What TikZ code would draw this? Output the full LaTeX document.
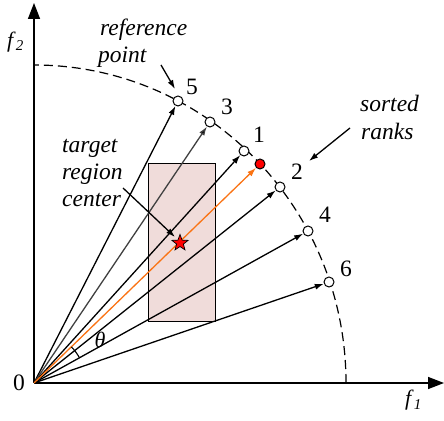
\documentclass[tikz,border=0pt]{standalone}
\usepackage{fontspec}
\setmainfont{Liberation Serif}
\usetikzlibrary{arrows.meta,shapes.geometric}
\definecolor{rectfill}{RGB}{240,220,218}
\definecolor{rayorange}{RGB}{250,115,20}
\begin{document}
\begin{tikzpicture}[x=1pt,y=1pt,
  txt/.style={inner sep=0pt, font=\fontsize{23.5}{27.5}\selectfont},
  itxt/.style={txt, font=\fontsize{23.5}{27.5}\selectfont\itshape, anchor=base west},
  num/.style={txt, anchor=base},
  refpt/.style={circle, draw=black, line width=1pt, fill=white, minimum size=10pt, inner sep=0pt},
  ray/.style={line width=1.3pt, -{Latex[length=9pt,width=6pt]}},
  callout/.style={line width=1.3pt, -{Latex[length=9pt,width=6pt]}},
  axis/.style={line width=1.5pt, -{Triangle[length=16pt,width=12pt]}}]
\useasboundingbox (0,0) rectangle (444,420);
% target region
\node[draw=black, line width=1.1pt, fill=rectfill, minimum width=67pt, minimum height=158pt, inner sep=0pt, anchor=south west] (rect) at (148,98) {};
% origin and axes
\coordinate (O) at (34,37);
\coordinate (xend) at (444,37);
\coordinate (yend) at (34,417);
\draw[axis] (O) -- (xend);
\draw[axis] (O) -- (yend);
% dashed front
\draw[dashed, dash pattern=on 9pt off 5pt, line width=1.2pt] (346,37) arc[start angle=0, end angle=90, x radius=312, y radius=318];
% reference points
\node[refpt] (p5) at (178,319) {};
\node[refpt] (p3) at (210,298) {};
\node[refpt] (p1) at (244,269) {};
\node[refpt, fill=red] (pr) at (260,256) {};
\node[refpt] (p2) at (280,233) {};
\node[refpt] (p4) at (308,189) {};
\node[refpt] (p6) at (329,138) {};
% rays
\draw[ray] (O) -- (p5);
\draw[ray, draw=black!75, -{Latex[length=9pt,width=6pt,fill=black]}] (O) -- (p3);
\draw[ray] (O) -- (p1);
\draw[ray] (O) -- (p2);
\draw[ray] (O) -- (p4);
\draw[ray] (O) -- (p6);
\draw[ray, draw=rayorange, -{Latex[length=9pt,width=6pt,fill=rayorange]}] (O) -- (pr);
% angle
\draw[line width=1.1pt] (O) ++(29:52) arc[start angle=29, end angle=44, radius=52];
\node[txt, font=\fontsize{22}{26}\selectfont\itshape] (theta) at (100,80) {θ};
% star
\node[star, star points=5, star point ratio=2.4, draw=black, line width=0.7pt, fill=red, minimum size=17pt, inner sep=0pt] (star) at (180,177) {};
% rank labels
\node[num] (n5) at (192,325) {5};
\node[num] (n3) at (227,305) {3};
\node[num] (n1) at (259,277) {1};
\node[num] (n2) at (297,240) {2};
\node[num] (n4) at (325,197) {4};
\node[num] (n6) at (346,143) {6};
\node[num] (n0) at (19,30) {0};
% axis labels
\node[txt, anchor=base west, font=\fontsize{22}{26}\selectfont] (f2) at (7,372) {\textit{f}\raisebox{-3pt}{\fontsize{15}{18}\selectfont\textit{2}}};
\node[txt, anchor=base west, font=\fontsize{22}{26}\selectfont] (f1) at (405,14) {\textit{f}\raisebox{-3pt}{\fontsize{15}{18}\selectfont\textit{1}}};
% text labels
\node[itxt] (ref1) at (100,384) {reference};
\node[itxt] (ref2) at (98,357) {point};
\node[itxt] (tgt1) at (62,267) {target};
\node[itxt] (tgt2) at (62,240) {region};
\node[itxt] (tgt3) at (62,213) {center};
\node[itxt] (srt1) at (360,308) {sorted};
\node[itxt] (srt2) at (361,280) {ranks};
% callouts
\coordinate (refa) at (161,355);
\coordinate (refb) at (175,331);
\draw[callout] (refa) -- (refb);
\coordinate (tgta) at (123,232);
\coordinate (tgtb) at (175,183);
\draw[callout] (tgta) -- (tgtb);
\coordinate (srta) at (350,292);
\coordinate (srtb) at (309,259);
\draw[callout] (srta) -- (srtb);
\end{tikzpicture}
\end{document}
